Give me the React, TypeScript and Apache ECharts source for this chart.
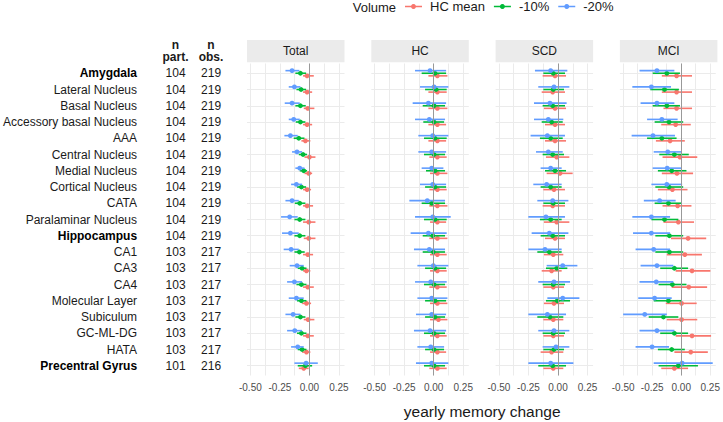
import React, { useEffect, useRef } from "react";
import * as echarts from "echarts";

// ---------- data ----------
const ROWS = [
  "Amygdala", "Lateral Nucleus", "Basal Nucleus", "Accessory basal Nucleus", "AAA",
  "Central Nucleus", "Medial Nucleus", "Cortical Nucleus", "CATA", "Paralaminar Nucleus",
  "Hippocampus", "CA1", "CA3", "CA4", "Molecular Layer", "Subiculum", "GC-ML-DG", "HATA",
  "Precentral Gyrus",
];
const BOLD_ROWS = ["Amygdala", "Hippocampus", "Precentral Gyrus"];
const N_PART = [104, 104, 104, 104, 104, 104, 104, 104, 104, 104, 104, 103, 103, 103, 103, 103, 103, 103, 101];
const N_OBS = [219, 219, 219, 219, 219, 219, 219, 219, 219, 219, 219, 217, 217, 217, 217, 217, 217, 217, 216];

const FACETS = ["Total", "HC", "SCD", "MCI"];
const GROUPS = ["HC mean", "-10%", "-20%"];
const GROUP_COLORS = ["#F8766D", "#00BA38", "#619CFF"];
const X_TICKS = [-0.5, -0.25, 0, 0.25];
const X_GRID = [-0.5, -0.375, -0.25, -0.125, 0, 0.125, 0.25];

// [estimate, lower, upper] per row
const TOTAL_HCMEAN = [
  [-0.020, -0.054, 0.037], [-0.020, -0.054, 0.023], [-0.014, -0.048, 0.042], [-0.020, -0.054, 0.023],
  [-0.034, -0.068, 0.008], [0.000, -0.042, 0.051], [-0.006, -0.042, 0.023], [-0.020, -0.054, 0.014],
  [-0.020, -0.054, 0.031], [-0.006, -0.054, 0.051], [-0.006, -0.048, 0.051], [-0.014, -0.054, 0.031],
  [-0.025, -0.054, 0.008], [-0.014, -0.054, 0.037], [-0.025, -0.062, 0.014], [-0.011, -0.048, 0.042],
  [-0.014, -0.054, 0.037], [-0.025, -0.062, 0.008], [-0.048, -0.090, -0.006],
];
const TOTAL_M10 = [
  [-0.076, -0.119, -0.028], [-0.071, -0.110, -0.028], [-0.076, -0.119, -0.031], [-0.076, -0.116, -0.034],
  [-0.090, -0.133, -0.042], [-0.054, -0.090, -0.020], [-0.048, -0.082, -0.020], [-0.068, -0.105, -0.028],
  [-0.082, -0.124, -0.034], [-0.082, -0.127, -0.034], [-0.082, -0.127, -0.034], [-0.085, -0.127, -0.040],
  [-0.062, -0.099, -0.025], [-0.068, -0.110, -0.025], [-0.068, -0.105, -0.025], [-0.076, -0.119, -0.034],
  [-0.068, -0.105, -0.025], [-0.062, -0.099, -0.025], [-0.034, -0.099, 0.023],
];
const TOTAL_M20 = [
  [-0.147, -0.203, -0.085], [-0.127, -0.175, -0.076], [-0.147, -0.209, -0.082], [-0.133, -0.175, -0.082],
  [-0.161, -0.212, -0.099], [-0.105, -0.147, -0.062], [-0.082, -0.119, -0.042], [-0.110, -0.155, -0.062],
  [-0.147, -0.203, -0.090], [-0.167, -0.240, -0.099], [-0.161, -0.232, -0.090], [-0.155, -0.218, -0.090],
  [-0.105, -0.167, -0.048], [-0.127, -0.189, -0.062], [-0.110, -0.175, -0.048], [-0.138, -0.203, -0.076],
  [-0.124, -0.189, -0.062], [-0.099, -0.155, -0.048], [-0.028, -0.127, 0.071],
];
const HC_HCMEAN = [
  [0.031, -0.045, 0.116], [0.031, -0.045, 0.110], [0.031, -0.045, 0.116], [0.031, -0.045, 0.105],
  [0.031, -0.045, 0.105], [0.031, -0.037, 0.110], [0.031, -0.031, 0.116], [0.031, -0.037, 0.110],
  [0.031, -0.037, 0.116], [0.031, -0.031, 0.105], [0.031, -0.037, 0.116], [0.031, -0.031, 0.110],
  [0.031, -0.031, 0.110], [0.031, -0.037, 0.110], [0.031, -0.031, 0.116], [0.040, -0.031, 0.116],
  [0.031, -0.031, 0.110], [0.031, -0.031, 0.105], [0.031, -0.037, 0.110],
];
const HC_M10 = [
  [0.011, -0.102, 0.105], [0.020, -0.073, 0.110], [0.003, -0.093, 0.096], [0.003, -0.088, 0.088],
  [0.011, -0.082, 0.110], [0.003, -0.082, 0.096], [0.011, -0.065, 0.096], [0.011, -0.073, 0.105],
  [-0.017, -0.102, 0.096], [0.011, -0.082, 0.110], [-0.008, -0.093, 0.096], [-0.003, -0.093, 0.096],
  [0.011, -0.073, 0.105], [0.003, -0.082, 0.096], [0.011, -0.073, 0.105], [0.011, -0.073, 0.096],
  [0.003, -0.082, 0.096], [0.003, -0.073, 0.088], [0.003, -0.082, 0.096],
];
const HC_M20 = [
  [-0.031, -0.158, 0.105], [0.003, -0.116, 0.124], [-0.045, -0.178, 0.105], [-0.037, -0.158, 0.096],
  [-0.008, -0.130, 0.124], [-0.017, -0.130, 0.105], [-0.017, -0.102, 0.082], [-0.008, -0.116, 0.105],
  [-0.054, -0.206, 0.096], [-0.008, -0.158, 0.144], [-0.045, -0.195, 0.110], [-0.037, -0.167, 0.096],
  [-0.003, -0.138, 0.124], [-0.025, -0.158, 0.110], [-0.017, -0.138, 0.116], [-0.017, -0.150, 0.105],
  [-0.031, -0.167, 0.105], [-0.025, -0.138, 0.088], [-0.017, -0.150, 0.124],
];
const SCD_HCMEAN = [
  [-0.025, -0.130, 0.068], [-0.045, -0.138, 0.059], [-0.025, -0.119, 0.068], [-0.025, -0.110, 0.059],
  [-0.025, -0.110, 0.068], [-0.011, -0.102, 0.096], [0.017, -0.096, 0.124], [-0.034, -0.124, 0.059],
  [-0.045, -0.130, 0.059], [-0.011, -0.119, 0.096], [-0.025, -0.110, 0.059], [-0.040, -0.119, 0.045],
  [-0.054, -0.138, 0.031], [-0.040, -0.124, 0.051], [-0.034, -0.119, 0.051], [-0.040, -0.124, 0.045],
  [-0.040, -0.124, 0.051], [-0.054, -0.147, 0.045], [-0.040, -0.124, 0.045],
];
const SCD_M10 = [
  [-0.040, -0.124, 0.059], [-0.040, -0.124, 0.051], [-0.045, -0.130, 0.059], [-0.054, -0.138, 0.040],
  [-0.062, -0.153, 0.040], [-0.045, -0.130, 0.051], [-0.025, -0.110, 0.068], [-0.062, -0.147, 0.031],
  [-0.040, -0.124, 0.059], [-0.062, -0.153, 0.031], [-0.045, -0.147, 0.059], [-0.073, -0.175, 0.031],
  [-0.011, -0.102, 0.079], [-0.040, -0.130, 0.059], [-0.006, -0.102, 0.102], [-0.068, -0.175, 0.045],
  [-0.040, -0.130, 0.059], [-0.034, -0.124, 0.051], [-0.045, -0.167, 0.068],
];
const SCD_M20 = [
  [-0.062, -0.195, 0.079], [-0.034, -0.167, 0.096], [-0.068, -0.203, 0.073], [-0.082, -0.203, 0.045],
  [-0.090, -0.232, 0.059], [-0.082, -0.186, 0.040], [-0.062, -0.147, 0.031], [-0.096, -0.209, 0.031],
  [-0.045, -0.175, 0.088], [-0.102, -0.251, 0.059], [-0.073, -0.223, 0.088], [-0.110, -0.251, 0.031],
  [0.040, -0.096, 0.164], [-0.034, -0.167, 0.102], [0.040, -0.090, 0.181], [-0.090, -0.251, 0.068],
  [-0.034, -0.167, 0.096], [-0.017, -0.130, 0.096], [-0.062, -0.251, 0.130],
];
const MCI_HCMEAN = [
  [-0.040, -0.167, 0.093], [-0.040, -0.167, 0.093], [-0.040, -0.153, 0.093], [-0.048, -0.172, 0.082],
  [-0.096, -0.218, 0.031], [-0.011, -0.161, 0.138], [-0.037, -0.167, 0.102], [-0.076, -0.201, 0.054],
  [-0.031, -0.161, 0.088], [-0.025, -0.153, 0.110], [0.059, -0.088, 0.215], [0.031, -0.124, 0.178],
  [0.093, -0.048, 0.251], [0.065, -0.082, 0.223], [0.003, -0.133, 0.133], [0.003, -0.124, 0.138],
  [0.093, -0.048, 0.257], [0.082, -0.059, 0.229], [-0.059, -0.172, 0.059],
];
const MCI_M10 = [
  [-0.124, -0.246, -0.011], [-0.144, -0.266, -0.020], [-0.124, -0.246, -0.011], [-0.105, -0.229, 0.017],
  [-0.167, -0.294, -0.040], [-0.059, -0.189, 0.065], [-0.082, -0.201, 0.045], [-0.105, -0.223, 0.017],
  [-0.110, -0.229, 0.003], [-0.144, -0.257, -0.025], [-0.102, -0.223, 0.017], [-0.102, -0.223, 0.017],
  [-0.059, -0.181, 0.059], [-0.076, -0.195, 0.045], [-0.110, -0.237, 0.003], [-0.153, -0.280, -0.025],
  [-0.059, -0.181, 0.059], [-0.082, -0.201, 0.031], [-0.025, -0.195, 0.144],
];
const MCI_M20 = [
  [-0.209, -0.359, -0.059], [-0.257, -0.421, -0.088], [-0.209, -0.350, -0.059], [-0.167, -0.294, -0.031],
  [-0.243, -0.427, -0.054], [-0.116, -0.237, 0.003], [-0.121, -0.246, 0.003], [-0.124, -0.257, 0.008],
  [-0.186, -0.322, -0.048], [-0.257, -0.421, -0.096], [-0.257, -0.415, -0.096], [-0.237, -0.393, -0.096],
  [-0.209, -0.350, -0.068], [-0.215, -0.359, -0.068], [-0.229, -0.370, -0.082], [-0.314, -0.500, -0.124],
  [-0.209, -0.359, -0.059], [-0.251, -0.393, -0.105], [0.008, -0.237, 0.271],
];

const FACET_DATA = [
  [TOTAL_HCMEAN, TOTAL_M10, TOTAL_M20],
  [HC_HCMEAN, HC_M10, HC_M20],
  [SCD_HCMEAN, SCD_M10, SCD_M20],
  [MCI_HCMEAN, MCI_M10, MCI_M20],
];

// ---------- layout ----------
const W = 723;
const H = 422;
const FONT = "Liberation Sans, Arial, Helvetica, sans-serif";
const PANEL_LEFT0 = 247;
const PANEL_STEP = 124.3;
const PANEL_W = 97.5;
const PANEL_TOP = 63.5;
const PANEL_H = 312;
const STRIP_TOP = 40;
const STRIP_H = 22.3;
const X_MIN = -0.528;
const X_MAX = 0.297;
const DODGE = [0.16, 0, -0.16];

export default function App() {
  const ref = useRef<HTMLDivElement>(null);

  useEffect(() => {
    if (!ref.current) return;
    const chart = echarts.init(ref.current, null, { renderer: "svg" });
    const rowIdx = ROWS.map((_, i) => i);

    const grids: any[] = [];
    const xAxes: any[] = [];
    const yAxes: any[] = [];
    const series: any[] = [];
    const graphics: any[] = [];

    FACETS.forEach((facet, fi) => {
      const left = PANEL_LEFT0 + fi * PANEL_STEP;
      grids.push({ left, top: PANEL_TOP, width: PANEL_W, height: PANEL_H, containLabel: false });
      xAxes.push({
        type: "value",
        gridIndex: fi,
        min: X_MIN,
        max: X_MAX,
        axisLine: { show: false },
        axisTick: { show: false, customValues: X_GRID },
        axisLabel: {
          customValues: X_TICKS,
          formatter: (v: number) => v.toFixed(2),
          color: "#4D4D4D",
          fontSize: 10,
          fontFamily: FONT,
          margin: 7,
        },
        splitLine: { show: true, lineStyle: { color: "#EBEBEB", width: 1 } },
      });
      yAxes.push({
        type: "value",
        gridIndex: fi,
        min: -0.6,
        max: 18.6,
        inverse: true,
        axisLine: { show: false },
        axisTick: { show: false, customValues: rowIdx },
        axisLabel: fi === 0
          ? {
              show: true,
              customValues: rowIdx,
              formatter: (v: number) => {
                const name = ROWS[Math.round(v)] ?? "";
                return BOLD_ROWS.includes(name) ? `{b|${name}}` : `{n|${name}}`;
              },
              margin: PANEL_LEFT0 - 137,
              rich: {
                b: { fontWeight: "bold", fontSize: 12, color: "#000000", fontFamily: FONT },
                n: { fontSize: 12, color: "#1A1A1A", fontFamily: FONT },
              },
            }
          : { show: false },
        splitLine: { show: true, lineStyle: { color: "#EBEBEB", width: 1 } },
      });

      graphics.push({
        type: "rect",
        shape: { x: left, y: STRIP_TOP, width: PANEL_W, height: STRIP_H },
        style: { fill: "#EBEBEB" },
        silent: true,
      });
      graphics.push({
        type: "text",
        x: left + PANEL_W / 2,
        y: STRIP_TOP + STRIP_H / 2,
        style: {
          text: facet,
          fontSize: 12,
          fontFamily: FONT,
          fill: "#1A1A1A",
          align: "center",
          verticalAlign: "middle",
        },
        silent: true,
      });

      // zero reference line
      series.push({
        type: "scatter",
        xAxisIndex: fi,
        yAxisIndex: fi,
        data: [],
        z: 1,
        silent: true,
        markLine: {
          silent: true,
          symbol: "none",
          label: { show: false },
          lineStyle: { color: "#999999", width: 1, type: "solid" },
          data: [{ xAxis: 0 }],
          animation: false,
        },
      });

      GROUPS.forEach((g, gi) => {
        const color = GROUP_COLORS[gi];
        const offset = DODGE[gi];
        series.push({
          type: "custom",
          name: g,
          xAxisIndex: fi,
          yAxisIndex: fi,
          z: 3,
          itemStyle: { color },
          encode: { x: [1, 2, 3], y: 0 },
          data: FACET_DATA[fi][gi].map((d, ri) => [ri, d[0], d[1], d[2]]),
          renderItem: (params: any, api: any) => {
            const y = api.value(0) + offset;
            const pe = api.coord([api.value(1), y]);
            const pl = api.coord([api.value(2), y]);
            const ph = api.coord([api.value(3), y]);
            return {
              type: "group",
              children: [
                {
                  type: "line",
                  shape: { x1: pl[0], y1: pl[1], x2: ph[0], y2: ph[1] },
                  style: { stroke: color, lineWidth: 1.6 },
                },
                {
                  type: "circle",
                  shape: { cx: pe[0], cy: pe[1], r: 2.4 },
                  style: { fill: color },
                },
              ],
            };
          },
        });
      });
    });

    // n columns as extra label-only axes on the first panel
    const nCols = [
      { values: N_PART, center: 175.5 },
      { values: N_OBS, center: 211 },
    ];
    nCols.forEach((col) => {
      yAxes.push({
        type: "value",
        gridIndex: 0,
        position: "left",
        offset: 0,
        min: -0.6,
        max: 18.6,
        inverse: true,
        axisLine: { show: false },
        axisTick: { show: false, customValues: rowIdx },
        splitLine: { show: false },
        axisLabel: {
          customValues: rowIdx,
          formatter: (v: number) => String(col.values[Math.round(v)] ?? ""),
          align: "center",
          margin: PANEL_LEFT0 - col.center,
          fontSize: 12,
          color: "#1A1A1A",
          fontFamily: FONT,
        },
      });
    });

    // column headers (two lines each)
    const headers: [string, string, number][] = [["n", "part.", 175.5], ["n", "obs.", 211]];
    headers.forEach(([a, b, cx]) => {
      [[a, 44.5], [b, 57]].forEach(([txt, y]) => {
        graphics.push({
          type: "text",
          x: cx,
          y: y as number,
          style: {
            text: txt as string,
            fontSize: 12,
            fontWeight: "bold",
            fontFamily: FONT,
            fill: "#1A1A1A",
            align: "center",
            verticalAlign: "middle",
          },
          silent: true,
        });
      });
    });

    // legend title
    graphics.push({
      type: "text",
      x: 352.7,
      y: 7,
      style: {
        text: "Volume",
        fontSize: 13,
        fontFamily: FONT,
        fill: "#1A1A1A",
        align: "left",
        verticalAlign: "middle",
      },
      silent: true,
    });

    // x axis title
    const panelsCenter = PANEL_LEFT0 + (PANEL_STEP * (FACETS.length - 1) + PANEL_W) / 2;
    graphics.push({
      type: "text",
      x: panelsCenter,
      y: 411,
      style: {
        text: "yearly memory change",
        fontSize: 15.5,
        fontFamily: FONT,
        fill: "#1A1A1A",
        align: "center",
        verticalAlign: "middle",
      },
      silent: true,
    });

    const legendIcon = "path://M0,1.8 L17,1.8 L17,3.2 L0,3.2 Z M8.5,0 A2.5,2.5 0 1,1 8.49,0 Z";

    chart.setOption({
      animation: false,
      backgroundColor: "#FFFFFF",
      textStyle: { fontFamily: FONT },
      grid: grids,
      xAxis: xAxes,
      yAxis: yAxes,
      legend: {
        left: 405,
        top: 0,
        padding: 0,
        itemGap: 9,
        itemWidth: 17,
        itemHeight: 5,
        selectedMode: false,
        textStyle: { fontSize: 13, color: "#1A1A1A", fontFamily: FONT, padding: [0, 0, 0, 3] },
        data: GROUPS.map((g) => ({ name: g, icon: legendIcon })),
      },
      graphic: graphics,
      series,
    });

    return () => chart.dispose();
  }, []);

  return (
    <div
      ref={ref}
      style={{ position: "fixed", left: 0, top: 0, width: W, height: H, background: "#fff" }}
    />
  );
}
